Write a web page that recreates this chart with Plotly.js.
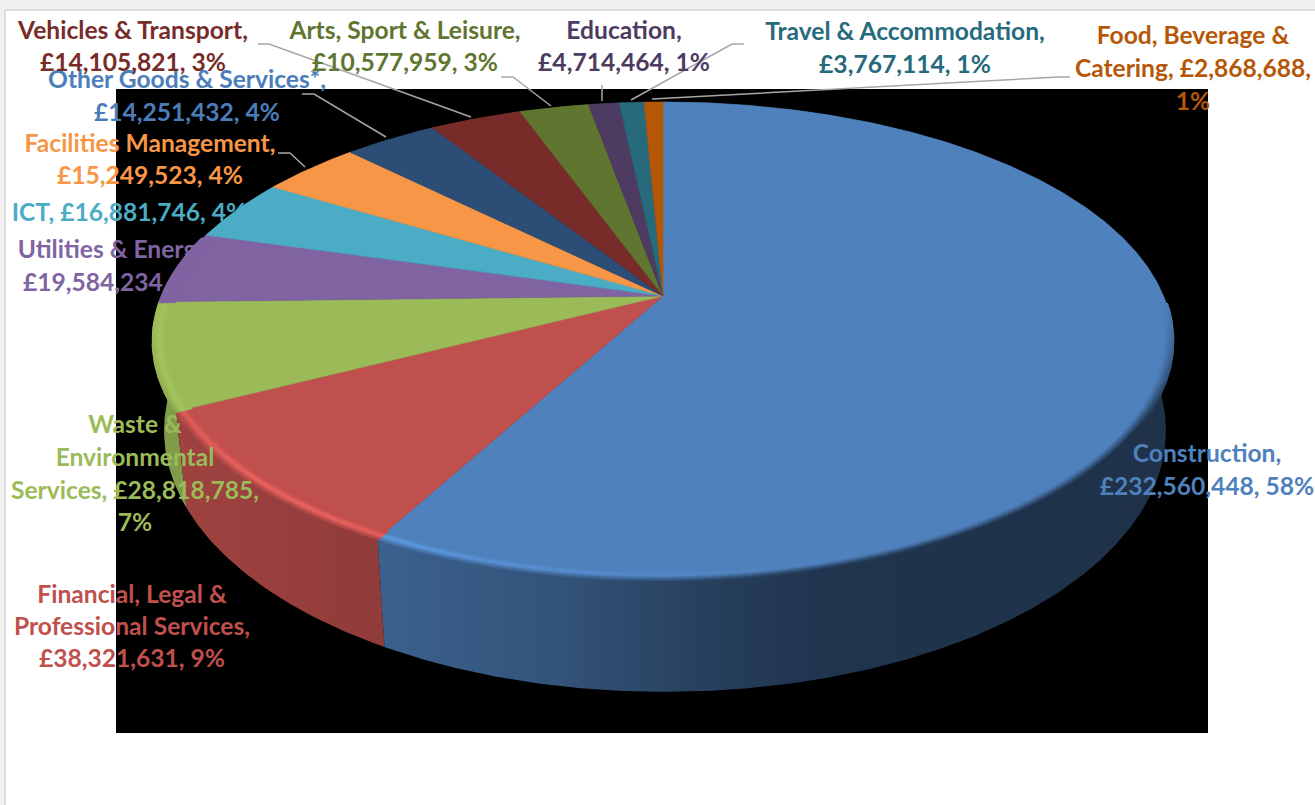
<!DOCTYPE html>
<html>
<head>
<meta charset="utf-8">
<script src="https://cdn.plot.ly/plotly-3.0.1.min.js"></script>
<style>html,body{margin:0;padding:0;background:#fff;overflow:hidden}#chart{width:1315px;height:805px}</style>
</head>
<body>
<div id="chart"></div>
<script>
// ---- data ----
var categories = ["Construction","Financial, Legal & Professional Services","Waste & Environmental Services","Utilities & Energy","ICT","Facilities Management","Other Goods & Services*","Vehicles & Transport","Arts, Sport & Leisure","Education","Travel & Accommodation","Food, Beverage & Catering"];
var values = [232560448,38321631,28818785,19584234,16881746,15249523,14251432,14105821,10577959,4714464,3767114,2868688];
var percents = ["58%","9%","7%","5%","4%","4%","4%","3%","3%","1%","1%","1%"];
var labelLines = [
  ["Construction,","£232,560,448, 58%"],
  ["Financial, Legal &","Professional Services,","£38,321,631, 9%"],
  ["Waste &","Environmental","Services, £28,818,785,","7%"],
  ["Utilities & Energy,","£19,584,234, 5%"],
  ["ICT, £16,881,746, 4%"],
  ["Facilities Management,","£15,249,523, 4%"],
  ["Other Goods & Services*,","£14,251,432, 4%"],
  ["Vehicles & Transport,","£14,105,821, 3%"],
  ["Arts, Sport & Leisure,","£10,577,959, 3%"],
  ["Education,","£4,714,464, 1%"],
  ["Travel & Accommodation,","£3,767,114, 1%"],
  ["Food, Beverage &","Catering, £2,868,688,","1%"]
];
// ---- styles and placement ----
var faceColors = ["#4f81bd","#c0504d","#9bbb59","#8064a2","#4bacc6","#f79646","#2c4d75","#772c2a","#5f7530","#4d3b62","#276a7c","#b65708"];
var labelColors = ["#4f81bd","#c0504d","#9bbb59","#8064a2","#4bacc6","#f79646","#4a7ebb","#772c2a","#5f7530","#4d3b62","#276a7c","#b65708"];
var rimGain = [1.3,1.3,1.13,1,1,1,1,1,1,1,1,1];
var labelX = [1207,132,135,116,129,150,187,133,405,624,905,1193];
var labelY = [[456,489],[597,629,661],[427,460,493,525],[252,285],[215],[146,178],[82,115],[33,65],[33,65],[33,65],[34,67],[38,71,104]];
var labelBehindPie = [false,false,false,true,true,false,false,false,false,false,false,false];
var leaders = [
  null,null,null,null,null,
  [[278,290,305],[153,153,167]],
  [[302,314,386],[94,94,137]],
  [[258,269,471],[44,44,117]],
  [[501,513,551],[77,77,106]],
  [[602,602],[85,101]],
  [[744,732,631],[44,44,100]],
  [[1070,1058,652],[77,77,99]]
];
var FONT = "Lato, Carlito, sans-serif", FONT_SIZE = 24.6;

// perspective of the disc (screen px as axis units)
var top_ = {x0:663,y0:296,A:500.5,B:230.5,c:-0.188};
var bot_ = {x0:665,y0:381.5,A:492,B:252,c:-0.188};
function project(p,u,v){var d=1+p.c*v;return [p.x0+p.A*u/d,p.y0+p.B*v/d];}
function onDisc(p,deg,r){var t=deg*Math.PI/180;return project(p,r*Math.sin(t),-r*Math.cos(t));}

var total = values.reduce(function(a,b){return a+b;},0);
var edges=[0]; values.forEach(function(v,i){edges.push(edges[i]+v/total*360);});

function hex(c){return [parseInt(c.substr(1,2),16),parseInt(c.substr(3,2),16),parseInt(c.substr(5,2),16)];}
function mul(c,k){return c.map(function(a){return Math.min(255,a*k);});}
function mix(a,b,t){return a.map(function(x,i){return x+(b[i]-x)*t;});}
function css(c){return "rgb("+c.map(Math.round).join(",")+")";}
function clamp(x){return Math.max(0,Math.min(1,x));}

var shadeStops=[[150,.84],[380,.75],[560,.64],[693,.5],[826,.405],[1175,.39]];
function shadeAt(x){
  if(x<=shadeStops[0][0])return shadeStops[0][1];
  for(var i=1;i<shadeStops.length;i++){
    if(x<=shadeStops[i][0]){var a=shadeStops[i-1],b=shadeStops[i];return a[1]+(b[1]-a[1])*(x-a[0])/(b[0]-a[0]);}
  }
  return shadeStops[shadeStops.length-1][1];
}
function arcPts(p,a,b,r){var n=Math.max(2,Math.ceil((b-a)/0.5)),o=[];for(var i=0;i<=n;i++)o.push(onDisc(p,a+(b-a)*i/n,r));return o;}

var traces=[];
function textTrace(i){
  traces.push({type:"scatter",mode:"text",x:labelLines[i].map(function(){return labelX[i];}),y:labelY[i],text:labelLines[i],
    textposition:"middle center",textfont:{family:FONT,size:FONT_SIZE,color:labelColors[i],weight:700},hoverinfo:"skip",cliponaxis:false,showlegend:false});
}
// labels hidden behind the pie
labelLines.forEach(function(_,i){if(labelBehindPie[i])textTrace(i);});

// side walls, back slices first
for(var i=values.length-1;i>=0;i--){
  var tp=arcPts(top_,edges[i],edges[i+1],1), bp=arcPts(bot_,edges[i],edges[i+1],1).reverse(), poly=tp.concat(bp);
  poly.push(poly[0]);
  var base=hex(faceColors[i]);
  traces.push({type:"scatter",mode:"lines",x:poly.map(function(p){return p[0];}),y:poly.map(function(p){return p[1];}),fill:"toself",
    line:{width:0,color:css(mul(base,.5))},
    fillgradient:{type:"horizontal",start:150,stop:1175,colorscale:shadeStops.map(function(s){return [(s[0]-150)/1025,css(mul(base,s[1]))];})},
    hoverinfo:"skip",showlegend:false});
}
// top faces
values.forEach(function(v,i){
  var pts=[[top_.x0,top_.y0]].concat(arcPts(top_,edges[i],edges[i+1],1));
  pts.push(pts[0]);
  traces.push({type:"scatter",mode:"lines",x:pts.map(function(p){return p[0];}),y:pts.map(function(p){return p[1];}),fill:"toself",
    fillcolor:faceColors[i],line:{width:0.6,color:faceColors[i]},name:categories[i],
    text:categories[i]+", £"+v.toLocaleString("en-GB")+", "+percents[i],hoveron:"fills",hoverinfo:"text",showlegend:false});
});
// soft bevel on the front rim
(function(){
  var xs=[],ys=[],cs=[],RINGS=7,D=0.028;
  values.forEach(function(v,i){
    var a=Math.max(edges[i],92),b=Math.min(edges[i+1],285);
    if(b<=a)return;
    var base=hex(faceColors[i]),hi=mul(base,rimGain[i]),n=Math.ceil((b-a)/0.25);
    for(var k=0;k<=n;k++){
      var th=a+(b-a)*k/n;
      var S=th<215?clamp((th-150)/65):clamp((285-th)/60);
      var W=Math.min(clamp((th-92)/30),clamp((262-th)/22));
      for(var q=0;q<RINGS;q++){
        var f=q/(RINGS-1),pt=onDisc(top_,th,1-f*D);
        var wall=mul(base,shadeAt(pt[0]));
        var h=S*Math.exp(-Math.pow((f-0.4)/0.26,2));
        var w=clamp(1-f/0.6)*W;
        var c=mix(mix(base,hi,h),wall,w*(1-0.5*S));
        xs.push(pt[0]);ys.push(pt[1]);cs.push(css(c));
      }
    }
  });
  traces.push({type:"scatter",mode:"markers",x:xs,y:ys,marker:{size:3.4,color:cs,line:{width:0}},hoverinfo:"skip",showlegend:false});
})();
// leader lines
leaders.forEach(function(l){
  if(!l)return;
  traces.push({type:"scatter",mode:"lines",x:l[0],y:l[1],line:{color:"#a6a6a6",width:1.5},hoverinfo:"skip",showlegend:false});
});
// labels in front
labelLines.forEach(function(_,i){if(!labelBehindPie[i])textTrace(i);});

var layout={
  width:1315,height:805,margin:{l:0,r:0,t:0,b:0},paper_bgcolor:"#ffffff",plot_bgcolor:"#ffffff",showlegend:false,
  xaxis:{range:[0,1315],visible:false,fixedrange:true},
  yaxis:{range:[805,0],visible:false,fixedrange:true},
  shapes:[
    {type:"rect",layer:"below",xref:"x",yref:"y",x0:116,x1:1208,y0:89,y1:733,fillcolor:"#000000",line:{width:0}},
    {type:"rect",layer:"below",xref:"x",yref:"y",x0:0,x1:1315,y0:0,y1:9,fillcolor:"#f0f0f0",line:{width:0}},
    {type:"rect",layer:"below",xref:"x",yref:"y",x0:0,x1:1315,y0:9,y1:11,fillcolor:"#dddddd",line:{width:0}},
    {type:"rect",layer:"below",xref:"x",yref:"y",x0:0,x1:4,y0:0,y1:805,fillcolor:"#f0f0f0",line:{width:0}},
    {type:"rect",layer:"below",xref:"x",yref:"y",x0:4,x1:6,y0:9,y1:805,fillcolor:"#dddddd",line:{width:0}}
  ]
};
Plotly.newPlot("chart",traces,layout,{displayModeBar:false,responsive:false});
</script>
</body>
</html>
